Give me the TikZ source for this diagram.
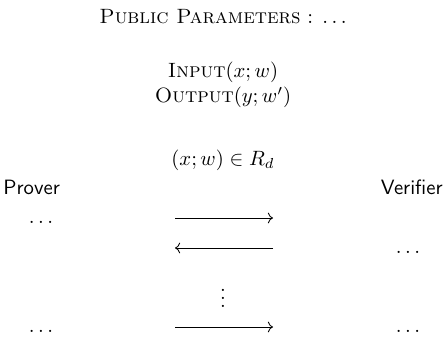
\documentclass[tikz,border=0pt]{standalone}
\usetikzlibrary{arrows.meta}
\begin{document}
\begin{tikzpicture}[x=0.483pt,y=-0.483pt,
  lbl/.style={inner sep=0pt, anchor=base},
  msg/.style={-{Computer Modern Rightarrow}, line width=0.4pt}]
\useasboundingbox (0,0) rectangle (446,336);
\node[lbl] (pp) at (223,24) {\textsc{Public Parameters} : $\ldots$};
\node[lbl] (in) at (223,78) {\textsc{Input}$(x;w)$};
\node[lbl] (out) at (223,103) {\textsc{Output}$(y;w')$};
\node[lbl] (rel) at (223,165) {$(x;w)\in R_d$};
\node[lbl, anchor=base west] (prover) at (3,194) {\sffamily Prover};
\node[lbl, anchor=base east] (verifier) at (443,194) {\sffamily Verifier};
% row 1
\node[lbl] (pd1) at (41,223) {$\ldots$};
\coordinate (a1s) at (175,218);
\coordinate (a1e) at (273,218);
\draw[msg] (a1s) -- (a1e);
% row 2
\coordinate (a2s) at (273,248);
\coordinate (a2e) at (175,248);
\draw[msg] (a2s) -- (a2e);
\node[lbl] (vd2) at (408,253) {$\ldots$};
% vertical dots
\node[inner sep=0pt] (vd) at (223,292) {$\vdots$};
% row 3
\node[lbl] (pd3) at (41,332) {$\ldots$};
\coordinate (a3s) at (175,327);
\coordinate (a3e) at (273,327);
\draw[msg] (a3s) -- (a3e);
\node[lbl] (vd3) at (408,332) {$\ldots$};
\end{tikzpicture}
\end{document}
